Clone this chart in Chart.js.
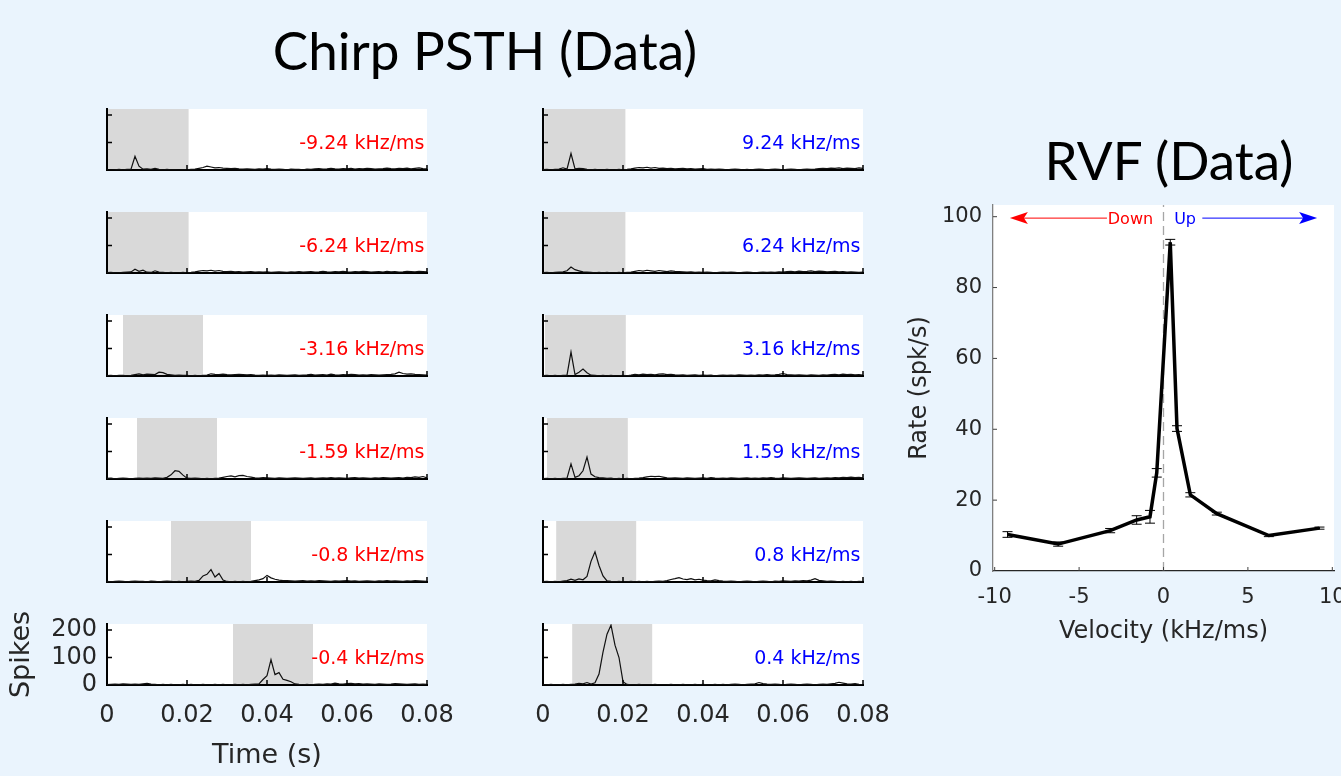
<!DOCTYPE html>
<html>
<head>
<meta charset="utf-8">
<title>Chirp PSTH and RVF (Data)</title>
<script src="https://cdn.jsdelivr.net/npm/chart.js@4.4.1/dist/chart.umd.min.js"></script>
<style>
  html, body { margin: 0; padding: 0; width: 1341px; height: 776px; overflow: hidden; background: #eaf4fd; }
  .title { position: absolute; font-family: Lato, 'Open Sans', sans-serif; font-size: 53px; line-height: 53px; color: #000; white-space: nowrap; text-align: center; }
  canvas { position: absolute; }
</style>
</head>
<body>
<div class="title" style="left:185px; top:23px; width:600px;">Chirp PSTH (Data)</div>
<div class="title" style="left:969px; top:133px; width:400px;">RVF (Data)</div>
<script>
// ---- data ----
// PSTH bins (ms), 1 ms wide
const binTimesMs = [
  0, 1, 2, 3, 4, 5, 6, 7, 8, 9,
  10, 11, 12, 13, 14, 15, 16, 17, 18, 19,
  20, 21, 22, 23, 24, 25, 26, 27, 28, 29,
  30, 31, 32, 33, 34, 35, 36, 37, 38, 39,
  40, 41, 42, 43, 44, 45, 46, 47, 48, 49,
  50, 51, 52, 53, 54, 55, 56, 57, 58, 59,
  60, 61, 62, 63, 64, 65, 66, 67, 68, 69,
  70, 71, 72, 73, 74, 75, 76, 77, 78, 79,
  80
];

// spike counts, downward chirps
const psthDown924 = [
  1, 0, 1, 2, 1, 2, 3, 50, 14, 3,
  4, 2, 6, 2, 1, 2, 1, 1, 0, 1,
  1, 2, 3, 6, 9, 14, 11, 8, 9, 7,
  6, 5, 6, 4, 3, 4, 3, 2, 4, 3,
  5, 3, 2, 3, 2, 1, 3, 2, 2, 1,
  3, 2, 4, 5, 3, 4, 6, 4, 3, 5,
  4, 6, 3, 5, 4, 6, 5, 3, 4, 5,
  7, 5, 4, 6, 5, 7, 4, 6, 8, 5,
  4
];
const psthDown624 = [
  1, 2, 1, 1, 2, 3, 4, 14, 6, 10,
  3, 2, 8, 3, 2, 1, 2, 1, 1, 2,
  1, 2, 4, 7, 9, 8, 10, 7, 9, 6,
  5, 6, 4, 5, 3, 4, 5, 3, 4, 3,
  4, 2, 3, 4, 3, 2, 4, 3, 5, 3,
  4, 5, 3, 4, 6, 4, 3, 5, 4, 6,
  4, 3, 5, 4, 6, 5, 3, 4, 5, 3,
  6, 4, 5, 3, 4, 6, 5, 4, 6, 5,
  4
];
const psthDown316 = [
  1, 2, 1, 2, 2, 1, 2, 5, 8, 4,
  7, 6, 5, 14, 12, 6, 4, 2, 3, 2,
  2, 1, 2, 1, 2, 3, 8, 6, 5, 7,
  5, 4, 5, 6, 5, 4, 5, 3, 2, 3,
  2, 3, 2, 4, 3, 2, 3, 4, 2, 3,
  4, 6, 3, 4, 5, 3, 7, 4, 3, 5,
  4, 6, 5, 3, 4, 3, 5, 4, 3, 4,
  5, 6, 8, 14, 9, 7, 8, 6, 5, 4,
  3
];
const psthDown159 = [
  2, 3, 1, 2, 3, 2, 1, 2, 3, 2,
  3, 2, 4, 3, 2, 6, 15, 30, 28, 14,
  3, 2, 3, 2, 1, 2, 1, 2, 3, 6,
  9, 11, 8, 12, 13, 9, 7, 4, 3, 5,
  4, 3, 2, 4, 3, 2, 3, 4, 3, 2,
  3, 4, 2, 3, 4, 3, 5, 3, 4, 3,
  2, 4, 5, 3, 4, 3, 2, 4, 3, 5,
  4, 3, 4, 5, 3, 6, 5, 8, 6, 9,
  4
];
const psthDown080 = [
  2, 1, 2, 3, 2, 1, 2, 3, 2, 2,
  1, 3, 2, 1, 2, 3, 2, 1, 2, 1,
  2, 3, 2, 6, 22, 28, 45, 18, 31, 7,
  2, 1, 2, 1, 2, 1, 2, 5, 8, 12,
  24, 15, 10, 7, 5, 5, 4, 3, 4, 5,
  3, 4, 3, 5, 4, 3, 2, 4, 3, 4,
  5, 3, 4, 2, 3, 4, 3, 2, 4, 3,
  5, 3, 4, 3, 2, 4, 3, 5, 4, 3,
  2
];
const psthDown040 = [
  1, 2, 3, 2, 4, 3, 2, 3, 2, 4,
  6, 3, 2, 1, 2, 1, 2, 1, 1, 2,
  1, 2, 1, 1, 2, 1, 1, 2, 1, 2,
  1, 1, 2, 1, 2, 1, 2, 3, 4, 20,
  34, 92, 38, 45, 21, 17, 12, 4, 2, 1,
  2, 1, 2, 3, 2, 4, 3, 7, 4, 3,
  5, 6, 4, 5, 3, 4, 3, 2, 4, 3,
  2, 3, 5, 4, 3, 2, 3, 4, 2, 3,
  2
];

// spike counts, upward chirps
const psthUp924 = [
  1, 2, 1, 2, 3, 8, 3, 60, 4, 6,
  5, 2, 1, 2, 1, 1, 2, 1, 1, 2,
  1, 2, 4, 7, 9, 8, 10, 7, 9, 6,
  7, 5, 6, 4, 5, 6, 4, 5, 3, 4,
  5, 2, 3, 2, 3, 2, 1, 2, 3, 2,
  1, 2, 1, 2, 3, 2, 1, 2, 3, 2,
  1, 2, 3, 2, 1, 2, 3, 2, 3, 5,
  6, 5, 7, 6, 8, 5, 7, 6, 5, 8,
  6
];
const psthUp624 = [
  1, 2, 1, 2, 3, 4, 8, 22, 12, 8,
  4, 3, 2, 1, 2, 1, 2, 1, 1, 2,
  1, 2, 3, 6, 9, 7, 10, 8, 6, 9,
  7, 5, 8, 6, 5, 4, 3, 4, 2, 3,
  2, 3, 2, 1, 2, 3, 2, 3, 2, 1,
  2, 3, 2, 1, 2, 3, 2, 3, 2, 4,
  3, 5, 6, 4, 7, 5, 6, 8, 5, 7,
  6, 4, 5, 6, 4, 5, 3, 4, 3, 2,
  3
];
const psthUp316 = [
  1, 2, 1, 2, 1, 2, 3, 87, 5, 14,
  25, 12, 3, 2, 1, 2, 1, 2, 1, 1,
  2, 1, 3, 6, 4, 7, 5, 6, 4, 7,
  8, 5, 6, 4, 3, 4, 2, 3, 4, 2,
  3, 2, 3, 1, 2, 3, 2, 3, 2, 4,
  3, 2, 3, 2, 4, 3, 5, 3, 4, 6,
  9, 5, 4, 3, 4, 3, 2, 4, 3, 2,
  4, 3, 5, 6, 4, 7, 5, 6, 4, 5,
  3
];
const psthUp159 = [
  1, 2, 1, 2, 1, 2, 3, 55, 6, 12,
  30, 80, 18, 8, 5, 4, 2, 3, 1, 2,
  1, 2, 1, 2, 3, 5, 8, 10, 9, 10,
  7, 4, 3, 4, 3, 2, 4, 3, 2, 3,
  4, 2, 5, 3, 2, 3, 2, 4, 3, 2,
  3, 4, 2, 3, 2, 4, 3, 5, 3, 2,
  4, 3, 2, 3, 4, 3, 2, 3, 4, 2,
  3, 4, 3, 5, 4, 6, 5, 7, 5, 6,
  4
];
const psthUp080 = [
  1, 2, 1, 2, 1, 3, 5, 10, 6, 11,
  8, 20, 75, 110, 60, 22, 4, 2, 1, 2,
  1, 1, 2, 1, 2, 1, 2, 1, 2, 3,
  2, 5, 9, 12, 16, 11, 9, 12, 8, 10,
  7, 5, 4, 8, 5, 3, 2, 3, 2, 1,
  2, 3, 2, 1, 2, 3, 2, 1, 3, 2,
  4, 3, 2, 4, 3, 5, 4, 7, 12, 6,
  4, 2, 3, 2, 1, 2, 1, 2, 1, 2,
  1
];
const psthUp040 = [
  1, 1, 2, 1, 1, 2, 1, 2, 3, 6,
  4, 9, 3, 8, 40, 120, 185, 218, 145, 100,
  12, 2, 1, 1, 2, 1, 1, 1, 2, 1,
  1, 1, 2, 1, 1, 2, 1, 1, 2, 1,
  2, 1, 1, 2, 1, 2, 1, 2, 3, 2,
  1, 2, 3, 4, 9, 5, 3, 2, 3, 2,
  1, 2, 3, 2, 1, 2, 3, 2, 1, 2,
  3, 2, 4, 6, 10, 7, 4, 3, 5, 2,
  1
];

const downLabels = ['-9.24 kHz/ms', '-6.24 kHz/ms', '-3.16 kHz/ms', '-1.59 kHz/ms', '-0.8 kHz/ms', '-0.4 kHz/ms'];
const upLabels = ['9.24 kHz/ms', '6.24 kHz/ms', '3.16 kHz/ms', '1.59 kHz/ms', '0.8 kHz/ms', '0.4 kHz/ms'];

// stimulus windows (ms)
const downWinStart = [0, 0, 4, 7.5, 16, 31.5];
const downWinEnd = [20.4, 20.4, 24, 27.5, 36, 51.5];
const upWinStart = [0.3, 0.3, 0.5, 1, 3.3, 7.3];
const upWinEnd = [20.6, 20.6, 20.7, 21.2, 23.3, 27.3];

const psthTimeTicks = [0, 20, 40, 60, 80];
const psthTimeTickLabels = ['0', '0.02', '0.04', '0.06', '0.08'];
const psthCountTicks = [0, 100, 200];

// rate vs velocity
const velocities = [-9.24, -6.24, -3.16, -1.59, -0.8, -0.4, 0.4, 0.8, 1.59, 3.16, 6.24, 9.24];
const rates = [10.3, 7.6, 11.4, 14.4, 15.3, 27.7, 92.8, 40.2, 21.5, 16.2, 10.0, 12.1];
const rateErr = [0.8, 0.6, 0.6, 1.2, 1.8, 1.2, 0.8, 0.8, 0.6, 0.4, 0.3, 0.3];
const rvfVelTicks = [-10, -5, 0, 5, 10];
const rvfRateTicks = [0, 20, 40, 60, 80, 100];

// ---- drawing ----
Chart.defaults.font.family = "'DejaVu Sans', sans-serif";
Chart.defaults.color = '#262626';
Chart.defaults.animation = false;

// white axes background, stimulus window, inward ticks, velocity label
const psthDecor = {
  id: 'psthDecor',
  beforeDraw(chart, args, o) {
    const { ctx, chartArea: a } = chart;
    const xs = chart.scales.x;
    ctx.save();
    ctx.fillStyle = '#ffffff';
    ctx.fillRect(a.left, a.top, a.right - a.left, a.bottom - a.top);
    const x0 = xs.getPixelForValue(o.winStart);
    const x1 = xs.getPixelForValue(o.winEnd);
    ctx.fillStyle = '#d9d9d9';
    ctx.fillRect(x0, a.top, x1 - x0, a.bottom - a.top);
    ctx.restore();
  },
  afterDraw(chart, args, o) {
    const { ctx, chartArea: a } = chart;
    const xs = chart.scales.x, ys = chart.scales.y;
    ctx.save();
    ctx.strokeStyle = '#000';
    ctx.lineWidth = 1.5;
    ctx.beginPath();
    psthTimeTicks.forEach(v => {
      if (v === xs.min) return;
      const p = xs.getPixelForValue(v);
      ctx.moveTo(p, a.bottom);
      ctx.lineTo(p, a.bottom - 5);
    });
    psthCountTicks.forEach(v => {
      if (v === ys.min) return;
      const p = ys.getPixelForValue(v);
      ctx.moveTo(a.left, p);
      ctx.lineTo(a.left + 5, p);
    });
    ctx.stroke();
    ctx.fillStyle = o.color;
    ctx.font = "19px 'DejaVu Sans'";
    ctx.textAlign = 'right';
    ctx.textBaseline = 'alphabetic';
    ctx.fillText(o.label, a.right - 2.5, a.top + 40);
    ctx.restore();
  }
};

function makePsth(col, row, counts, label, color, winStart, winEnd) {
  const bottomRow = row === 5;
  const showY = bottomRow && col === 0;
  const plotLeft = col === 0 ? 107 : 543;
  const plotTop = 109 + 103 * row;
  const plotW = 320, plotH = 61;
  const yW = col === 0 ? 107 : 60;
  const padTop = showY ? 30 : 6;
  const padRight = bottomRow ? 50 : 8;
  const xH = bottomRow ? 91 : 6;

  const cv = document.createElement('canvas');
  cv.width = yW + plotW + padRight;
  cv.height = padTop + plotH + xH;
  cv.style.left = (plotLeft - yW) + 'px';
  cv.style.top = (plotTop - padTop) + 'px';
  cv.style.width = cv.width + 'px';
  cv.style.height = cv.height + 'px';
  document.body.appendChild(cv);

  new Chart(cv, {
    type: 'line',
    data: {
      datasets: [{
        data: counts.map((c, i) => ({ x: binTimesMs[i], y: c })),
        borderColor: '#111111',
        borderWidth: 1.2,
        pointRadius: 0,
        tension: 0
      }]
    },
    options: {
      responsive: false,
      animation: false,
      layout: { padding: { top: padTop, right: padRight, bottom: 0, left: 0 } },
      plugins: {
        legend: { display: false },
        tooltip: { enabled: false },
        psthDecor: { label: label, color: color, winStart: winStart, winEnd: winEnd }
      },
      scales: {
        x: {
          type: 'linear',
          min: 0,
          max: 80,
          afterBuildTicks: s => { s.ticks = psthTimeTicks.map(v => ({ value: v })); },
          afterFit: s => { s.height = xH; },
          ticks: {
            display: bottomRow,
            autoSkip: false,
            maxRotation: 0,
            padding: 16,
            font: { size: 24 },
            callback: v => psthTimeTickLabels[psthTimeTicks.indexOf(v)]
          },
          grid: { display: false, drawTicks: false },
          border: { display: true, color: '#000', width: 2 },
          title: { display: showY, text: 'Time (s)', font: { size: 27 }, padding: { top: 4, bottom: 4 } }
        },
        y: {
          min: 0,
          max: 222,
          afterBuildTicks: s => { s.ticks = psthCountTicks.map(v => ({ value: v })); },
          afterFit: s => { s.width = yW; },
          ticks: { display: showY, autoSkip: false, padding: 10, font: { size: 24 } },
          grid: { display: false, drawTicks: false },
          border: { display: true, color: '#000', width: 2 },
          title: { display: showY, text: 'Spikes', font: { size: 27 }, padding: { top: 6, bottom: 4 } }
        }
      }
    },
    plugins: [psthDecor]
  });
}

const downCounts = [psthDown924, psthDown624, psthDown316, psthDown159, psthDown080, psthDown040];
const upCounts = [psthUp924, psthUp624, psthUp316, psthUp159, psthUp080, psthUp040];
for (let r = 0; r < 6; r++) {
  makePsth(0, r, downCounts[r], downLabels[r], '#ff0000', downWinStart[r], downWinEnd[r]);
  makePsth(1, r, upCounts[r], upLabels[r], '#0000ff', upWinStart[r], upWinEnd[r]);
}

// RVF panel: background, error bars, inward ticks, direction arrows
function drawArrow(ctx, x0, x1, y, color) {
  const dir = Math.sign(x1 - x0);
  const len = 18, half = 6, notch = 14;
  ctx.strokeStyle = color;
  ctx.lineWidth = 1;
  ctx.beginPath();
  ctx.moveTo(x0, y);
  ctx.lineTo(x1 - dir * notch, y);
  ctx.stroke();
  ctx.fillStyle = color;
  ctx.beginPath();
  ctx.moveTo(x1, y);
  ctx.lineTo(x1 - dir * len, y - half);
  ctx.lineTo(x1 - dir * notch, y);
  ctx.lineTo(x1 - dir * len, y + half);
  ctx.closePath();
  ctx.fill();
}

const rvfDecor = {
  id: 'rvfDecor',
  beforeDraw(chart) {
    const { ctx, chartArea: a } = chart;
    ctx.save();
    ctx.fillStyle = '#ffffff';
    ctx.fillRect(a.left, a.top, a.right - a.left, a.bottom - a.top);
    ctx.restore();
  },
  afterDatasetsDraw(chart) {
    const { ctx } = chart;
    const xs = chart.scales.x, ys = chart.scales.y;
    ctx.save();
    ctx.strokeStyle = '#000';
    ctx.lineWidth = 1;
    ctx.beginPath();
    velocities.forEach((v, i) => {
      const px = xs.getPixelForValue(v);
      const lo = ys.getPixelForValue(rates[i] - rateErr[i]);
      const hi = ys.getPixelForValue(rates[i] + rateErr[i]);
      ctx.moveTo(px, lo); ctx.lineTo(px, hi);
      ctx.moveTo(px - 5, lo); ctx.lineTo(px + 5, lo);
      ctx.moveTo(px - 5, hi); ctx.lineTo(px + 5, hi);
    });
    ctx.stroke();
    ctx.restore();
  },
  afterDraw(chart, args, o) {
    const { ctx, chartArea: a } = chart;
    const xs = chart.scales.x, ys = chart.scales.y;
    ctx.save();
    ctx.strokeStyle = '#404040';
    ctx.lineWidth = 1;
    ctx.beginPath();
    rvfVelTicks.forEach(v => {
      const p = xs.getPixelForValue(v);
      ctx.moveTo(p, a.bottom); ctx.lineTo(p, a.bottom - 4);
    });
    rvfRateTicks.forEach(v => {
      if (v === 0) return;
      const p = ys.getPixelForValue(v);
      ctx.moveTo(a.left, p); ctx.lineTo(a.left + 4, p);
    });
    ctx.stroke();

    const ay = ys.getPixelForValue(o.arrowRate);
    ctx.font = "16px 'DejaVu Sans'";
    ctx.textAlign = 'left';
    ctx.textBaseline = 'alphabetic';
    o.arrows.forEach(ar => {
      drawArrow(ctx, xs.getPixelForValue(ar.from), xs.getPixelForValue(ar.to), ay, ar.color);
      ctx.fillStyle = ar.color;
      ctx.fillText(ar.text, xs.getPixelForValue(ar.textAt), ay + 6);
    });
    ctx.restore();
  }
};

(function makeRvf() {
  const plotW = 341, plotH = 366;
  const yW = 93, xH = 79, padTop = 30, padRight = 30;
  const cv = document.createElement('canvas');
  cv.width = yW + plotW + padRight;
  cv.height = padTop + plotH + xH;
  cv.style.left = (993 - yW) + 'px';
  cv.style.top = (205 - padTop) + 'px';
  cv.style.width = cv.width + 'px';
  cv.style.height = cv.height + 'px';
  document.body.appendChild(cv);

  const rateMax = 103.3;
  new Chart(cv, {
    type: 'line',
    data: {
      datasets: [
        {
          data: velocities.map((v, i) => ({ x: v, y: rates[i] })),
          borderColor: '#000',
          borderWidth: 3.5,
          pointRadius: 0,
          tension: 0,
          order: 0
        },
        {
          data: [{ x: 0, y: 0 }, { x: 0, y: rateMax }],
          borderColor: '#a6a6a6',
          borderWidth: 1.3,
          borderDash: [9, 5],
          pointRadius: 0,
          order: 1
        }
      ]
    },
    options: {
      responsive: false,
      animation: false,
      layout: { padding: { top: padTop, right: padRight, bottom: 0, left: 0 } },
      plugins: {
        legend: { display: false },
        tooltip: { enabled: false },
        rvfDecor: {
          arrowRate: 99.6,
          arrows: [
            { text: 'Down', color: '#ff0000', textAt: -3.3, from: -3.35, to: -9.1 },
            { text: 'Up', color: '#0000ff', textAt: 0.63, from: 2.3, to: 9.1 }
          ]
        }
      },
      scales: {
        x: {
          type: 'linear',
          min: -10.1,
          max: 10.1,
          afterBuildTicks: s => { s.ticks = rvfVelTicks.map(v => ({ value: v })); },
          afterFit: s => { s.height = xH; },
          ticks: { autoSkip: false, maxRotation: 0, padding: 14, font: { size: 21 } },
          grid: { display: false, drawTicks: false },
          border: { display: true, color: '#262626', width: 1.3 },
          title: { display: true, text: 'Velocity (kHz/ms)', font: { size: 24 }, padding: { top: 4, bottom: 4 } }
        },
        y: {
          min: 0,
          max: rateMax,
          afterBuildTicks: s => { s.ticks = rvfRateTicks.map(v => ({ value: v })); },
          afterFit: s => { s.width = yW; },
          ticks: { autoSkip: false, padding: 11, font: { size: 21 } },
          grid: { display: false, drawTicks: false },
          border: { display: true, color: '#808080', width: 1.3 },
          title: { display: true, text: 'Rate (spk/s)', font: { size: 24 }, padding: { top: 5, bottom: 4 } }
        }
      }
    },
    plugins: [rvfDecor]
  });
})();
</script>
</body>
</html>
